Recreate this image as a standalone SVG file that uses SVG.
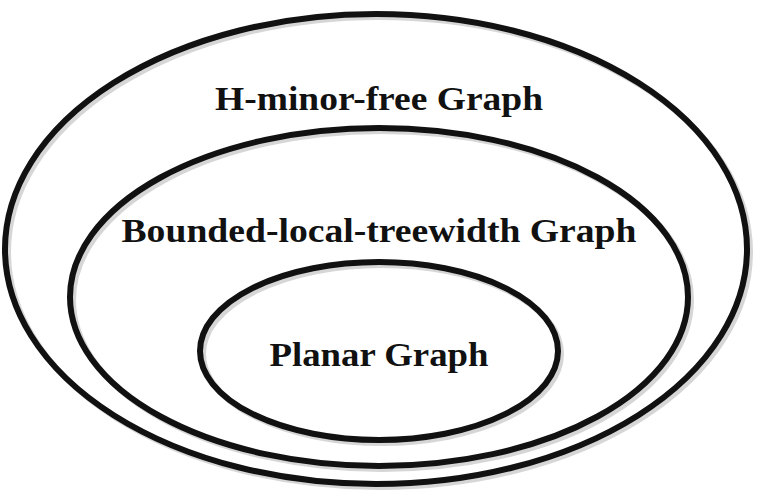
<svg xmlns="http://www.w3.org/2000/svg" width="764" height="494" viewBox="0 0 764 494">
<style>
.e{fill:none;stroke:#111;stroke-width:6}
.s{fill:none;stroke:#bbb;stroke-width:6;opacity:0.6}
.t{font-family:"Liberation Serif",serif;font-weight:bold;font-size:34px;fill:#111;text-anchor:middle}
</style>
<rect width="764" height="494" fill="#fff"/>
<g id="outer">
<ellipse class="s" cx="379" cy="252" rx="371" ry="235"/>
<ellipse class="e" cx="376" cy="249" rx="371" ry="235"/>
<text class="t" x="379" y="110" textLength="328" lengthAdjust="spacingAndGlyphs">H-minor-free Graph</text>
</g>
<g id="middle">
<ellipse class="s" cx="382" cy="300" rx="309" ry="169"/>
<ellipse class="e" cx="379" cy="297" rx="309" ry="169"/>
<text class="t" x="379" y="242" textLength="515" lengthAdjust="spacingAndGlyphs">Bounded-local-treewidth Graph</text>
</g>
<g id="inner">
<ellipse class="s" cx="382" cy="354" rx="179" ry="89"/>
<ellipse class="e" cx="379" cy="351" rx="179" ry="89"/>
<text class="t" x="379" y="366" textLength="219" lengthAdjust="spacingAndGlyphs">Planar Graph</text>
</g>
<g id="connectors"/>
</svg>
